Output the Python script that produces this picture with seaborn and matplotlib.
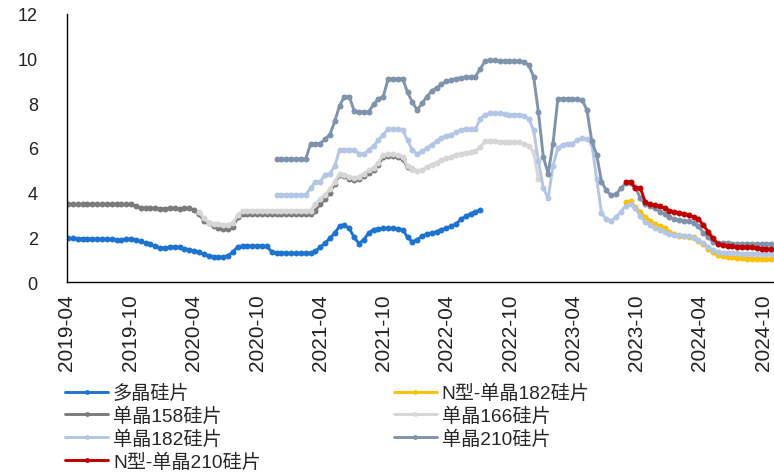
import matplotlib
matplotlib.use("Agg")
import matplotlib.pyplot as plt
import seaborn as sns
import pandas as pd

# ---------------- data (biweekly observations, CNY/piece) ----------------
grid_start = "2019-04-04"
grid_periods = 146
grid_freq = "14D"

names = ["多晶硅片", "N型-单晶182硅片", "单晶158硅片", "单晶166硅片",
         "单晶182硅片", "单晶210硅片", "N型-单晶210硅片"]

# index on the biweekly grid where each series begins
start_poly = 0
start_m158 = 0
start_m166 = 27
start_m182 = 43
start_m210 = 43
start_n182 = 115
start_n210 = 115

poly = [1.95, 1.95, 1.94, 1.94, 1.93, 1.93, 1.92, 1.92, 1.91, 1.91, 1.90, 1.90, 1.92, 1.93,
        1.90, 1.82, 1.75, 1.68, 1.60, 1.54, 1.52, 1.57, 1.58, 1.55, 1.50, 1.45, 1.40, 1.33,
        1.25, 1.18, 1.12, 1.10, 1.12, 1.18, 1.35, 1.58, 1.62,
        1.62, 1.62, 1.63, 1.62, 1.60,
        1.35, 1.30,
        1.30, 1.28, 1.28, 1.28, 1.28, 1.30, 1.30,
        1.38, 1.55, 1.75, 1.95, 2.20, 2.50, 2.55, 2.40, 2.00, 1.72, 1.90, 2.20, 2.35,
        2.38, 2.40, 2.40, 2.40, 2.38, 2.35,
        2.00, 1.80, 1.90, 2.05, 2.15, 2.20, 2.25, 2.35, 2.40, 2.50, 2.60, 2.80, 2.95, 3.05,
        3.15, 3.22]

m158 = [3.48, 3.48, 3.48, 3.48, 3.48, 3.48, 3.48, 3.48, 3.48, 3.48, 3.48, 3.48, 3.48, 3.48,
        3.40, 3.32,
        3.30, 3.30, 3.30, 3.28, 3.28, 3.30, 3.30, 3.28, 3.30, 3.30,
        3.22, 3.05, 2.75, 2.62, 2.50, 2.40, 2.38, 2.38, 2.45, 2.90, 3.05,
        3.05, 3.05, 3.04, 3.04, 3.05, 3.05, 3.06, 3.06, 3.05, 3.05, 3.05, 3.06, 3.06, 3.06,
        3.20, 3.50, 3.70, 4.00, 4.40, 4.80, 4.75, 4.60, 4.55, 4.60, 4.75, 4.90, 5.00, 5.25,
        5.60, 5.65, 5.65, 5.60, 5.50, 5.15, 5.05]

m166 = [3.15, 2.85, 2.65, 2.60, 2.58, 2.55, 2.55, 2.65, 3.00, 3.20,
        3.20, 3.20, 3.20, 3.20, 3.20, 3.20, 3.20, 3.20, 3.20, 3.20, 3.20, 3.20, 3.20, 3.20,
        3.50, 3.70, 3.90, 4.15, 4.50, 4.85, 4.80, 4.70, 4.65, 4.70, 4.85, 5.00, 5.10, 5.35,
        5.70, 5.72, 5.72, 5.70, 5.60, 5.20, 5.05,
        4.95,
        5.00, 5.15, 5.25, 5.35, 5.45, 5.55, 5.60, 5.70, 5.75, 5.78,
        5.80, 5.85, 6.05, 6.30,
        6.30, 6.30, 6.28, 6.28, 6.28, 6.25, 6.25, 6.20,
        6.10, 5.80, 4.60]

m182 = [3.90, 3.90, 3.90, 3.90, 3.90, 3.90, 3.90,
        4.20, 4.48, 4.50, 4.80, 4.85,
        5.20, 5.93, 5.93, 5.93,
        5.90, 5.75, 5.73, 5.90,
        6.10, 6.35, 6.60, 6.85, 6.85, 6.85, 6.80,
        6.35, 5.90,
        5.73,
        5.85, 6.00, 6.15, 6.30, 6.45, 6.55, 6.60, 6.70, 6.80, 6.85, 6.85, 6.85,
        7.30, 7.50,
        7.55, 7.55, 7.55, 7.52, 7.50, 7.50, 7.50, 7.45,
        7.30, 6.80, 5.40, 4.20, 3.75, 5.20, 6.00,
        6.15, 6.20, 6.20, 6.35, 6.45, 6.40,
        6.20, 4.60, 3.10, 2.80, 2.75, 2.90, 3.15,
        3.40, 3.48, 3.30, 2.95, 2.70, 2.55, 2.42, 2.35, 2.25, 2.15, 2.12, 2.10, 2.08, 2.05,
        1.98, 1.88, 1.75, 1.55, 1.42, 1.35,
        1.32, 1.30, 1.30, 1.28, 1.27, 1.27, 1.26, 1.25, 1.25, 1.25, 1.25]

m210 = [5.50, 5.50, 5.50, 5.50, 5.50, 5.50, 5.50,
        6.18, 6.20, 6.20,
        6.40, 6.60, 7.20, 7.90,
        8.30, 8.30,
        7.65, 7.62, 7.62, 7.62,
        7.95, 8.20, 8.30,
        9.09, 9.10, 9.10, 9.10,
        8.50, 8.05, 7.70,
        8.00, 8.30, 8.55, 8.70, 8.85, 9.00, 9.05, 9.10, 9.15, 9.17, 9.17, 9.20,
        9.55, 9.90,
        9.92, 9.92, 9.90, 9.90, 9.90, 9.88, 9.88, 9.85,
        9.70, 9.20, 7.60, 5.60, 4.85, 6.20, 8.20,
        8.20, 8.20, 8.20, 8.18, 8.15,
        7.70, 6.30, 5.70, 4.50, 4.10, 3.88, 3.92, 4.20,
        4.42, 4.45, 4.24, 3.75, 3.50, 3.40, 3.30, 3.15, 3.05, 2.90, 2.82, 2.78, 2.75, 2.72,
        2.65, 2.50, 2.20, 2.00, 1.80, 1.75,
        1.75, 1.75, 1.72, 1.72, 1.72, 1.70, 1.70, 1.70, 1.70, 1.70, 1.70]

n182 = [3.58, 3.62, 3.35, 3.15, 2.90, 2.75, 2.60, 2.52, 2.40, 2.25, 2.15, 2.07, 2.05, 2.02,
        2.00, 1.85, 1.70, 1.50, 1.35, 1.20, 1.15, 1.12, 1.10, 1.08, 1.07, 1.05, 1.05, 1.04,
        1.03, 1.02, 1.02]

n210 = [4.50, 4.48, 4.20, 4.22, 3.60, 3.48, 3.45, 3.40, 3.30, 3.20, 3.15, 3.10, 3.05, 2.98,
        2.92, 2.82, 2.55, 2.25, 1.95, 1.72, 1.65, 1.62, 1.60, 1.58, 1.57, 1.55, 1.55, 1.52,
        1.50, 1.48, 1.48]

x_ticks = ["2019-04", "2019-10", "2020-04", "2020-10", "2021-04", "2021-10",
           "2022-04", "2022-10", "2023-04", "2023-10", "2024-04", "2024-10"]
y_ticks = [0, 2, 4, 6, 8, 10, 12]

colors = {"多晶硅片": "#1D74D0", "N型-单晶182硅片": "#FFC000", "单晶158硅片": "#7B7B7B",
          "单晶166硅片": "#D6D6D6", "单晶182硅片": "#B3C6E6", "单晶210硅片": "#8093AD",
          "N型-单晶210硅片": "#C00000"}

# ---------------- plotting ----------------
sns.set_theme(style="white")
plt.rcParams["font.family"] = ["Liberation Sans", "Noto Sans CJK SC", "DejaVu Sans"]

grid = pd.date_range(grid_start, periods=grid_periods, freq=grid_freq)
series = [(names[0], start_poly, poly), (names[1], start_n182, n182),
          (names[2], start_m158, m158), (names[3], start_m166, m166),
          (names[4], start_m182, m182), (names[5], start_m210, m210),
          (names[6], start_n210, n210)]

fig = plt.figure(figsize=(7.74, 4.77), dpi=100)
ax = fig.add_axes([67 / 774, 1 - 283 / 477, 1 - 67 / 774, 268 / 477])

handles = {}
for name, start, vals in series:
    df = pd.DataFrame({"date": grid[start:start + len(vals)], "value": vals})
    sns.lineplot(data=df, x="date", y="value", ax=ax, color=colors[name],
                 marker="o", markersize=4.3, markeredgewidth=0, linewidth=2.1,
                 legend=False)
    handles[name] = ax.lines[-1]

ax.set_xlim(pd.Timestamp("2019-04-01"), pd.Timestamp("2024-11-01"))
ax.set_ylim(0, 12)
ax.set_yticks(y_ticks)
ax.set_yticklabels([str(v) for v in y_ticks], fontsize=13)
tick_dates = [pd.Timestamp(t + "-01") for t in x_ticks]
ax.set_xticks(tick_dates)
ax.set_xticklabels(x_ticks, rotation=90, fontsize=15)
ax.set_xlabel("")
ax.set_ylabel("")

for s in ["top", "right"]:
    ax.spines[s].set_visible(False)
for s in ["left", "bottom"]:
    ax.spines[s].set_color("black")
    ax.spines[s].set_linewidth(1.0)
ax.tick_params(axis="both", direction="in", length=5, width=1, color="black",
               labelcolor="#222222")
ax.tick_params(axis="y", pad=21)
ax.tick_params(axis="x", pad=8)

order = [names[0], names[2], names[4], names[6], names[1], names[3], names[5]]
leg = fig.legend([handles[n] for n in order], order, ncol=2, loc="upper left",
                 bbox_to_anchor=(65 / 774, 1 - 385 / 477), frameon=False, fontsize=13.8,
                 handlelength=2.25, handletextpad=0.25, columnspacing=6.95,
                 labelspacing=0.24, borderpad=0, borderaxespad=0)
for h in leg.legend_handles:
    h.set_markersize(3.5)

fig.savefig("out.png", dpi=100)
